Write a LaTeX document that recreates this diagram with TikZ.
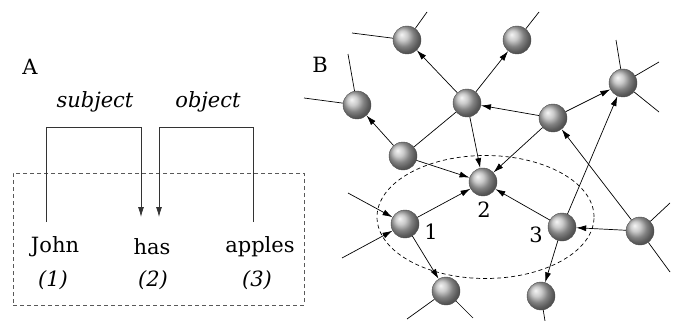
\documentclass[tikz,border=0pt]{standalone}
\usepackage{fontspec}
\setmainfont{DejaVu Serif}
\usetikzlibrary{arrows.meta,shapes.geometric}
\begin{document}
\begin{tikzpicture}[x=1pt,y=-1pt,
  ball/.style={circle,minimum size=28pt,inner sep=0pt,shading=ball,ball color=gray!55,draw=black!70,line width=0.4pt},
  edge/.style={line width=0.7pt,-{Latex[length=10pt,width=6pt]}},
  stub/.style={line width=0.7pt},
  txt/.style={font=\fontsize{21}{25}\selectfont,inner sep=0pt},
  itxt/.style={font=\fontsize{21}{25}\selectfont\itshape,inner sep=0pt},
  bracket/.style={line width=0.8pt,draw=black!80,-{Latex[length=10pt,width=6pt]}},
  frame/.style={draw=black!65,dashed,line width=0.7pt,dash pattern=on 4pt off 3pt}]
\useasboundingbox (0,0) rectangle (675,321);

% ---------- Part A ----------
\node[txt] (labA) at (30,67) {A};
\node[draw=none,minimum width=291pt,minimum height=132pt,inner sep=0pt,frame] (box) at (158.5,239) {};
\node[txt] (john) at (55,247) {John};
\node[txt] (has) at (152,247) {has};
\node[txt] (apples) at (260,247) {apples};
\node[itxt] (n1) at (53,280) {(1)};
\node[itxt] (n2) at (153,280) {(2)};
\node[itxt] (n3) at (257,280) {(3)};
\node[itxt] (subj) at (95,102) {subject};
\node[itxt] (obj) at (208,102) {object};
\coordinate (sj) at (46,222);
\coordinate (sh) at (141,217);
\coordinate (oa) at (253,222);
\coordinate (oh) at (159,217);
\draw[bracket] (sj) -- (sj |- 0,127) -| (sh);
\draw[bracket] (oa) -- (oa |- 0,127) -| (oh);

% ---------- Part B ----------
\node[txt] (labB) at (320,65) {B};
\node[draw,ellipse,dashed,dash pattern=on 4pt off 3pt,line width=0.7pt,minimum width=217pt,minimum height=123pt,inner sep=0pt] (ell) at (485.5,217) {};

\node[ball] (Na) at (407,40) {};
\node[ball] (Nb) at (517,40) {};
\node[ball] (Nc) at (357,105) {};
\node[ball] (hub) at (467,103) {};
\node[ball] (Nd) at (553,118) {};
\node[ball] (Ne) at (623,83) {};
\node[ball] (Nf) at (403,156) {};
\node[ball] (N2) at (483,182) {};
\node[ball] (N1) at (405,224) {};
\node[ball] (N3) at (562,227) {};
\node[ball] (Ng) at (640,231) {};
\node[ball] (Nh) at (446,291) {};
\node[ball] (Ni) at (541,296) {};

\node[txt] (l1) at (431,232) {1};
\node[txt] (l2) at (484,210) {2};
\node[txt] (l3) at (536,235) {3};

% free ends
\coordinate (sa1) at (352,33);
\coordinate (sa2) at (427,12);
\coordinate (sb1) at (539,12);
\coordinate (sc1) at (348,54);
\coordinate (sc2) at (304,98);
\coordinate (se1) at (616,40);
\coordinate (se2) at (659,62);
\coordinate (se3) at (659,112);
\coordinate (sg1) at (670,203);
\coordinate (sg2) at (670,272);
\coordinate (s1a) at (348,193);
\coordinate (s1b) at (342,258);
\coordinate (sh1) at (407,319);
\coordinate (sh2) at (473,318);
\coordinate (si1) at (545,321);

\draw[stub] (Na) -- (sa1);
\draw[stub] (Na) -- (sa2);
\draw[stub] (Nb) -- (sb1);
\draw[stub] (Nc) -- (sc1);
\draw[stub] (Nc) -- (sc2);
\draw[stub] (Ne) -- (se1);
\draw[stub] (Ne) -- (se2);
\draw[stub] (Ne) -- (se3);
\draw[stub] (Ng) -- (sg1);
\draw[stub] (Ng) -- (sg2);
\draw[stub] (Nh) -- (sh1);
\draw[stub] (Nh) -- (sh2);
\draw[stub] (Ni) -- (si1);
\draw[edge] (s1a) -- (N1);
\draw[edge] (s1b) -- (N1);

\draw[edge] (hub) -- (Na);
\draw[edge] (hub) -- (Nb);
\draw[edge] (Nf) -- (Nc);
\draw[stub] (Nf) -- (hub);
\draw[edge] (Nd) -- (hub);
\draw[edge] (Nd) -- (Ne);
\draw[edge] (hub) -- (N2);
\draw[edge] (Nd) -- (N2);
\draw[edge] (Nf) -- (N2);
\draw[edge] (N1) -- (N2);
\draw[edge] (N3) -- (N2);
\draw[edge] (Ng) -- (N3);
\draw[edge] (N1) -- (Nh);
\draw[edge] (N3) -- (Ni);
\draw[edge] (N3) -- (Ne);
\draw[edge] (Ng) -- (Nd);
\end{tikzpicture}
\end{document}
